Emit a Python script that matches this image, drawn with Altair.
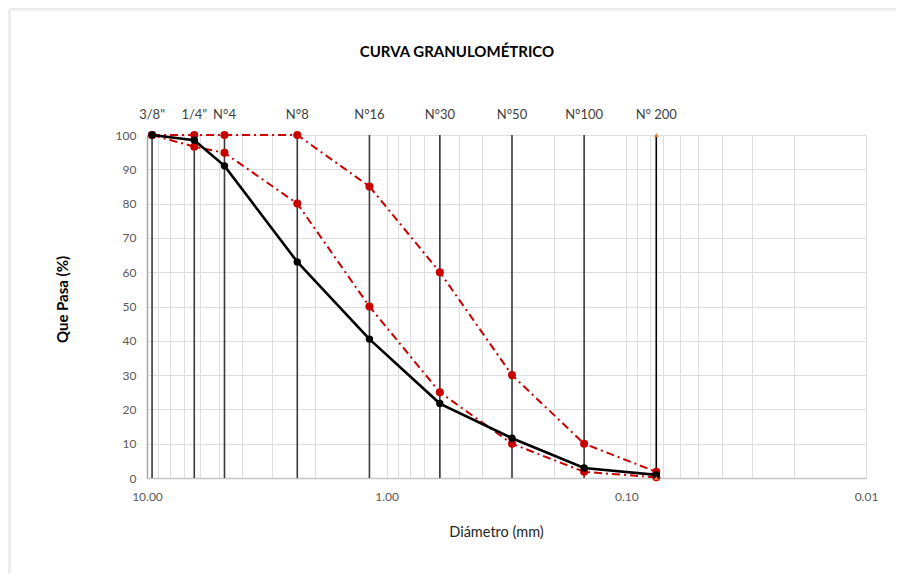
import altair as alt
import pandas as pd

# Sieve sizes (mm) and labels
sizes = [9.525, 6.35, 4.75, 2.36, 1.18, 0.6, 0.3, 0.15, 0.075]
sieve_labels = ['3/8"', '1/4"', 'N°4', 'N°8', 'N°16', 'N°30', 'N°50', 'N°100', 'N° 200']
# % passing
passing = [100, 98.5, 91, 63, 40.5, 21.7, 11.6, 2.9, 0.9]
lower_limit = [100, 96.6, 94.8, 80, 50, 25, 10, 1.8, 0.2]
upper_limit = [100, 100, 100, 100, 85, 60, 30, 10, 1.8]

x_ticks = [10, 1, 0.1, 0.01]
y_ticks = [0, 10, 20, 30, 40, 50, 60, 70, 80, 90, 100]

grid_vals = []
for d in [0.01, 0.1, 1]:
    for k in range(1, 10):
        grid_vals.append(round(k * d, 4))
grid_vals.append(10)

FONT = "Lato"
LBL = "#595959"

W, H = 719, 343
PL, PT = 139, 127

x_enc = alt.X(
    "size:Q",
    scale=alt.Scale(type="log", domain=[0.01, 10], reverse=True, nice=False),
    axis=alt.Axis(
        values=grid_vals,
        labelExpr="datum.value == 10 || datum.value == 1 || datum.value == 0.1 || datum.value == 0.01 ? format(datum.value, '.2f') : ''",
        labelFlush=False, labelOverlap=False, ticks=False, labelPadding=13,
        labelFont=FONT, labelFontSize=12, labelColor=LBL,
        grid=True, gridColor="#dedede", gridWidth=1,
        domainColor="#c4c4c4", domainWidth=1.5,
        title="Diámetro (mm)", titleFont=FONT, titleFontSize=14.5, titleFontWeight="normal",
        titleColor="#262626", titleX=349, titleY=54, titleAlign="center", titleBaseline="middle",
    ),
)
y_enc = alt.Y(
    "pct:Q",
    scale=alt.Scale(domain=[0, 100], nice=False),
    axis=alt.Axis(
        values=y_ticks, labelFlush=False, ticks=False, labelPadding=11,
        labelFont=FONT, labelFontSize=12, labelColor=LBL,
        grid=True, gridColor="#dedede", gridWidth=1,
        domainColor="#a6a6a6", domainWidth=1.5,
        title="Que Pasa (%)", titleFont=FONT, titleFontSize=15, titleFontWeight="bold",
        titleColor="black", titleX=-85, titleY=164, titleAngle=270,
        titleAlign="center", titleBaseline="middle",
    ),
)

df_pass = pd.DataFrame({"size": sizes, "pct": passing})
df_low = pd.DataFrame({"size": sizes, "pct": lower_limit})
df_up = pd.DataFrame({"size": sizes, "pct": upper_limit})
df_sieve = pd.DataFrame({"size": sizes, "label": sieve_labels, "pct": [100] * len(sizes), "pct0": [0] * len(sizes),
                         "last": [0] * (len(sizes) - 1) + [1]})
df_orange = pd.DataFrame({"size": [0.075, 0.075], "pct": [100, 0]})

sieve_rules = alt.Chart(df_sieve).mark_rule(strokeWidth=1.6).encode(
    x=x_enc, y=y_enc, y2="pct0:Q",
    color=alt.condition("datum.last == 1", alt.value("black"), alt.value("#3a3a3a")),
)
sieve_text = alt.Chart(df_sieve).mark_text(
    font=FONT, fontSize=13, color="#404040", baseline="middle", align="center"
).encode(x=x_enc, y=alt.value(-20), text="label:N")

def red_curve(df):
    line = alt.Chart(df).mark_line(
        color="#C80000", strokeWidth=2, strokeDash=[8, 4, 2, 4]
    ).encode(x=x_enc, y=y_enc)
    pts = alt.Chart(df).mark_point(filled=True, color="#C80000", size=65, opacity=1).encode(x=x_enc, y=y_enc)
    return line + pts

orange = alt.Chart(df_orange).mark_point(
    shape="triangle-up", filled=True, color="#ED7D31", size=22, opacity=1
).encode(x=x_enc, y=y_enc)

black_line = alt.Chart(df_pass).mark_line(color="black", strokeWidth=2.6).encode(x=x_enc, y=y_enc)
black_pts = alt.Chart(df_pass).mark_point(filled=True, color="black", size=55, opacity=1).encode(x=x_enc, y=y_enc)

title_df = pd.DataFrame({"t": ["CURVA GRANULOMÉTRICO"]})
title = alt.Chart(title_df).mark_text(
    font=FONT, fontSize=15, fontWeight="bold", color="black", align="center", baseline="middle"
).encode(x=alt.value(310), y=alt.value(-83), text="t:N")

frame_df = pd.DataFrame({"a": [0]})
frame_left = alt.Chart(frame_df).mark_rule(color="#ececec", strokeWidth=3).encode(
    x=alt.value(-PL + 1.5), y=alt.value(-PT + 1), y2=alt.value(H + 95)
)
frame_top = alt.Chart(frame_df).mark_rule(color="#ececec", strokeWidth=3).encode(
    x=alt.value(-PL + 1.5), x2=alt.value(W + 30), y=alt.value(-PT + 1)
)

chart = alt.layer(
    sieve_rules,
    red_curve(df_up),
    red_curve(df_low),
    black_line,
    black_pts,
    orange,
    sieve_text,
    title,
    frame_left,
    frame_top,
).properties(
    width=W, height=H,
    autosize=alt.AutoSizeParams(type="none"),
    padding={"left": PL, "top": PT, "right": 30, "bottom": 95},
).configure_view(stroke="#c8c8c8", strokeWidth=1.5).configure(background="white")

chart.save("out.html", embed_options={"renderer": "svg", "actions": False})
